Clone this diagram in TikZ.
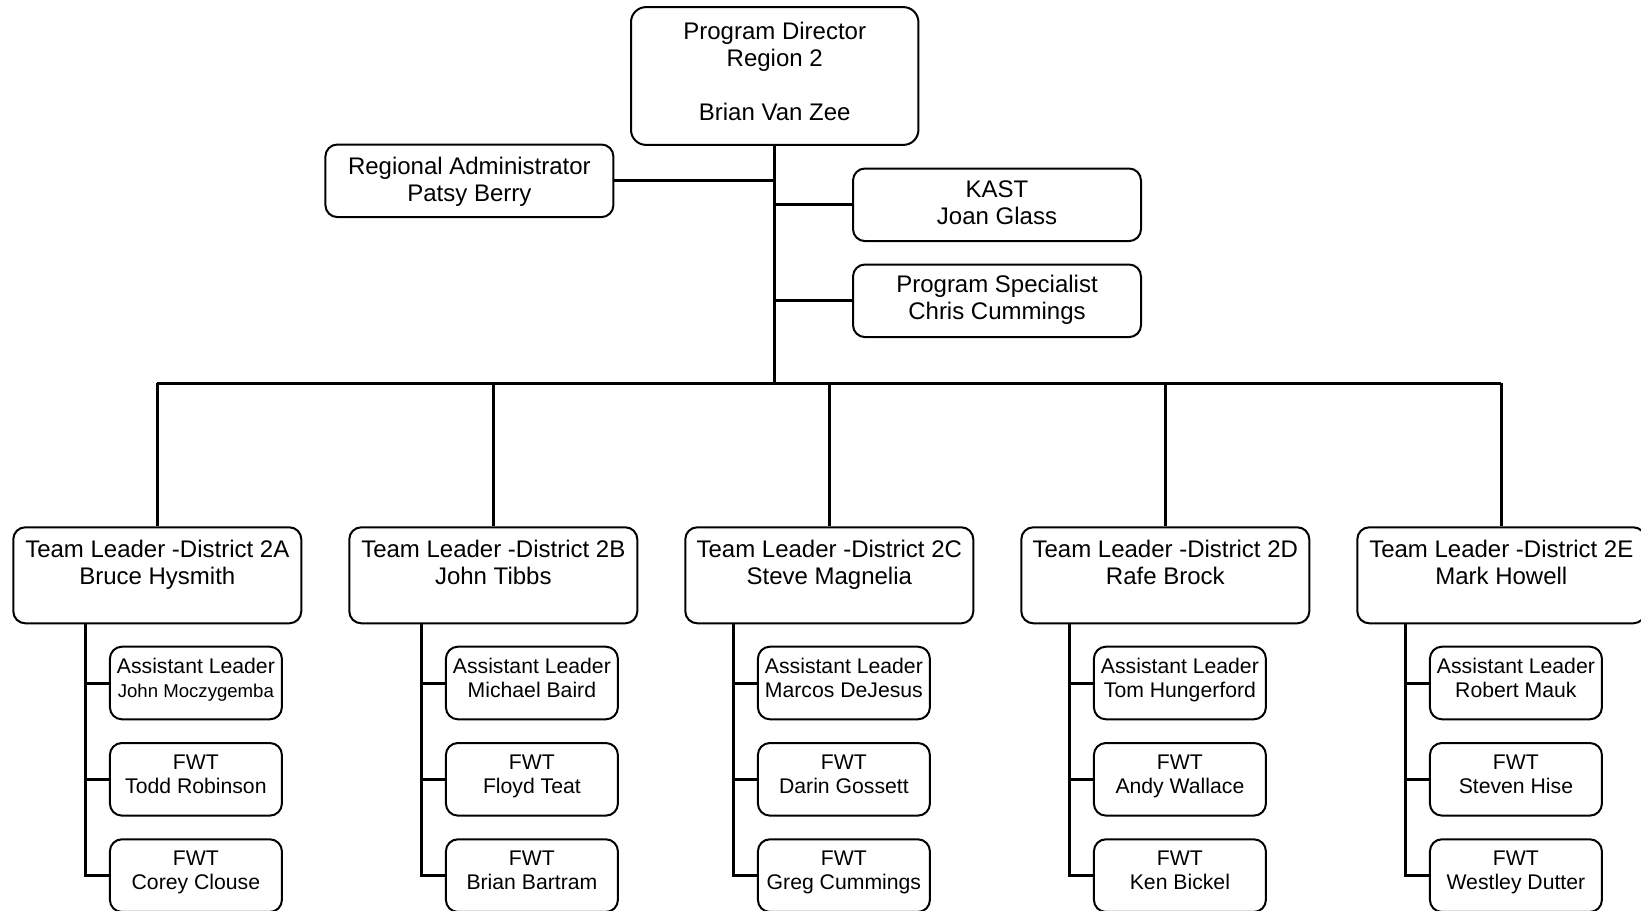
\documentclass[tikz,border=0pt]{standalone}
\usepackage{fontspec}
\setmainfont{Liberation Sans}
\usetikzlibrary{calc}
\tikzset{
  box/.style={draw=black, line width=1pt, rounded corners=6pt, fill=white, inner sep=0pt,
              minimum width=144pt, minimum height=36.3pt},
  bigbox/.style={box, minimum height=48pt},
  pdbox/.style={box, rounded corners=7.5pt, minimum width=143.7pt, minimum height=68.9pt},
  subbox/.style={box, minimum width=86pt, minimum height=36.3pt},
  lbl/.style={align=center, inner sep=0pt, font=\fontsize{12}{13.5}\selectfont,
              execute at begin node=\strut, execute at end node=\strut},
  sublbl/.style={align=center, inner sep=0pt, font=\fontsize{10.6}{12}\selectfont,
              execute at begin node=\strut, execute at end node=\strut},
  conn/.style={line width=1.5pt},
}
% #1 key, #2 x, #3 leader, #4 assistant, #5 fwt1, #6 fwt2, #7 sub offset, #8 spine offset
\newcommand{\teamcol}[8]{%
  \node[bigbox] (tl#1) at (#2,575.3) {};
  \node[lbl] (tl#1t) at (#2,566) {Team Leader -District 2#1\\#3};
  \node[subbox] (s#1a) at (#2+#7,683) {};
  \node[sublbl] (s#1at) at (#2+#7,681.5) {Assistant Leader\\#4};
  \node[subbox] (s#1b) at (#2+#7,779.3) {};
  \node[sublbl] (s#1bt) at (#2+#7,777.8) {FWT\\#5};
  \node[subbox] (s#1c) at (#2+#7,875.6) {};
  \node[sublbl] (s#1ct) at (#2+#7,874) {FWT\\#6};
  \coordinate (sp#1) at (#2+#8,623.3);
  \draw[conn] (tl#1.north) -- (tl#1.north |- bus);
  \draw[conn] (sp#1) -- (sp#1 |- s#1c.west) -- (s#1c.west);
  \draw[conn] (s#1a.west) -- (s#1a.west -| sp#1);
  \draw[conn] (s#1b.west) -- (s#1b.west -| sp#1);
}
\begin{document}
\begin{tikzpicture}[x=0.5pt,y=-0.5pt]
\fill[white] (0,0) rectangle (1641,910);
\useasboundingbox (0,0) rectangle (1641,910);

% top level
\node[pdbox] (pd) at (774.7,76) {};
\node[lbl] (pdt) at (774.7,75.6) {Program Director\\Region 2\\[13.5pt]Brian Van Zee};

\node[box] (ra) at (469.4,180.8) {};
\node[lbl] (rat) at (469.4,183.2) {Regional Administrator\\Patsy Berry};

\node[box] (kast) at (997,204.8) {};
\node[lbl] (kastt) at (997,206.5) {KAST\\Joan Glass};

\node[box] (ps) at (997,300.8) {};
\node[lbl] (pst) at (997,301.5) {Program Specialist\\Chris Cummings};

\coordinate (bus) at (774.7,383);

\draw[conn] (pd.south) -- (pd.south |- bus);
\draw[conn] (ra.east) -- (ra.east -| pd.south);
\draw[conn] (kast.west) -- (kast.west -| pd.south);
\draw[conn] (ps.west) -- (ps.west -| pd.south);

\teamcol{A}{157.3}{Bruce Hysmith}{{\fontsize{9.3}{12}\selectfont John Moczygemba}}{Todd Robinson}{Corey Clouse}{38.6}{-72}
\teamcol{B}{493.3}{John Tibbs}{Michael Baird}{Floyd Teat}{Brian Bartram}{38.6}{-72}
\teamcol{C}{829.3}{Steve Magnelia}{Marcos DeJesus}{Darin Gossett}{Greg Cummings}{14.6}{-95.5}
\teamcol{D}{1165.3}{Rafe Brock}{Tom Hungerford}{Andy Wallace}{Ken Bickel}{14.6}{-95.5}
\teamcol{E}{1501.3}{Mark Howell}{Robert Mauk}{Steven Hise}{Westley Dutter}{14.6}{-95.5}

\draw[conn] (tlA.north |- bus) -- (tlE.north |- bus);
\end{tikzpicture}
\end{document}
